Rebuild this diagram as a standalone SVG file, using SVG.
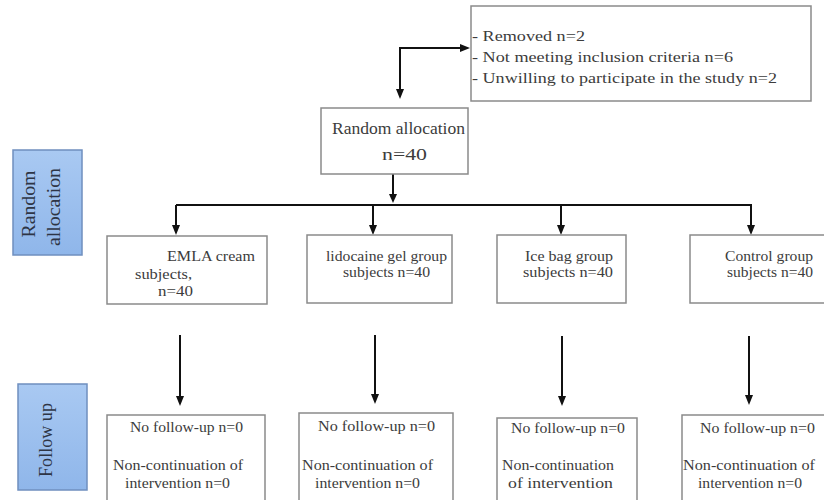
<svg xmlns="http://www.w3.org/2000/svg" width="824" height="500" viewBox="0 0 824 500">
<defs>
<linearGradient id="bg" x1="0" y1="0" x2="0" y2="1">
<stop offset="0" stop-color="#a9c9f2"/>
<stop offset="1" stop-color="#8fb6ea"/>
</linearGradient>
</defs>
<style>
.box{fill:#fff;stroke:#8a8a8a;stroke-width:1.5}
.side{fill:url(#bg);stroke:#6f8fbf;stroke-width:1.5}
.t{font-family:"Liberation Serif","Times New Roman",serif;fill:#3c3c3c;font-size:15px}
.s{font-size:14px}
.big{font-size:16px}
.st{font-family:"Liberation Serif","Times New Roman",serif;fill:#2e3545;font-size:19px}
.c{stroke:#111;stroke-width:2;fill:none}
.h{fill:#111}
</style>
<rect width="824" height="500" fill="#fff"/>

<g id="connectors">
<path class="c" d="M400,47 V90"/>
<path class="h" d="M396,89 L404,89 L400,99 z"/>
<path class="c" d="M401,48 H461"/>
<path class="h" d="M460,44 L470,48 L460,52 z"/>
<path class="c" d="M393,174 V195"/>
<path class="h" d="M389,194 L397,194 L393,203 z"/>
<path class="c" d="M176,205 H752"/>
<path class="c" d="M176,205 V226"/><path class="h" d="M172,225 L180,225 L176,235 z"/>
<path class="c" d="M373,205 V226"/><path class="h" d="M369,225 L377,225 L373,235 z"/>
<path class="c" d="M561,205 V226"/><path class="h" d="M557,225 L565,225 L561,235 z"/>
<path class="c" d="M751,205 V226"/><path class="h" d="M747,225 L755,225 L751,235 z"/>
<path class="c" d="M180,335 V397"/><path class="h" d="M176,396 L184,396 L180,406 z"/>
<path class="c" d="M375,335 V395"/><path class="h" d="M371,394 L379,394 L375,404 z"/>
<path class="c" d="M562,336 V397"/><path class="h" d="M558,396 L566,396 L562,406 z"/>
<path class="c" d="M749,336 V396"/><path class="h" d="M745,395 L753,395 L749,405 z"/>
</g>

<g id="excluded">
<rect class="box" x="471" y="6" width="340" height="95"/>
<text class="t" x="472" y="41" textLength="113" lengthAdjust="spacingAndGlyphs">- Removed n=2</text>
<text class="t" x="472" y="62" textLength="261" lengthAdjust="spacingAndGlyphs">- Not meeting inclusion criteria n=6</text>
<text class="t" x="472" y="83" textLength="305" lengthAdjust="spacingAndGlyphs">- Unwilling to participate in the study n=2</text>
</g>

<g id="random-allocation">
<rect class="box" x="321" y="108" width="147" height="66"/>
<text class="t big" x="332" y="134" textLength="133" lengthAdjust="spacingAndGlyphs">Random allocation</text>
<text class="t big" x="382" y="160" textLength="45" lengthAdjust="spacingAndGlyphs">n=40</text>
</g>

<g id="side-random">
<rect class="side" x="13" y="150" width="69" height="105"/>
<text class="st" transform="translate(35,204) rotate(-90)" text-anchor="middle" textLength="67" lengthAdjust="spacingAndGlyphs">Random</text>
<text class="st" transform="translate(60,207) rotate(-90)" text-anchor="middle" textLength="78" lengthAdjust="spacingAndGlyphs">allocation</text>
</g>

<g id="side-follow">
<rect class="side" x="18" y="384" width="69" height="106"/>
<text class="st" transform="translate(52,440) rotate(-90)" text-anchor="middle" textLength="74" lengthAdjust="spacingAndGlyphs">Follow up</text>
</g>

<g id="emla">
<rect class="box" x="107" y="236" width="160" height="68"/>
<text class="t" x="167" y="261" textLength="88" lengthAdjust="spacingAndGlyphs">EMLA cream</text>
<text class="t" x="135" y="279" textLength="57" lengthAdjust="spacingAndGlyphs">subjects,</text>
<text class="t" x="158" y="296" textLength="35" lengthAdjust="spacingAndGlyphs">n=40</text>
</g>

<g id="lidocaine">
<rect class="box" x="307" y="235" width="145" height="68"/>
<text class="t" x="326" y="261" textLength="121" lengthAdjust="spacingAndGlyphs">lidocaine gel group</text>
<text class="t" x="343" y="277" textLength="87" lengthAdjust="spacingAndGlyphs">subjects n=40</text>
</g>

<g id="icebag">
<rect class="box" x="497" y="235" width="129" height="68"/>
<text class="t" x="525" y="261" textLength="88" lengthAdjust="spacingAndGlyphs">Ice bag group</text>
<text class="t" x="523" y="277" textLength="90" lengthAdjust="spacingAndGlyphs">subjects n=40</text>
</g>

<g id="control">
<rect class="box" x="690" y="235" width="140" height="68"/>
<text class="t" x="725" y="261" textLength="88" lengthAdjust="spacingAndGlyphs">Control group</text>
<text class="t" x="727" y="277" textLength="86" lengthAdjust="spacingAndGlyphs">subjects n=40</text>
</g>

<g id="fu1">
<rect class="box" x="107" y="415" width="158" height="90"/>
<text class="t s" x="130" y="432" textLength="113" lengthAdjust="spacingAndGlyphs">No follow-up n=0</text>
<text class="t s" x="113" y="470" textLength="130" lengthAdjust="spacingAndGlyphs">Non-continuation of</text>
<text class="t s" x="125" y="488" textLength="105" lengthAdjust="spacingAndGlyphs">intervention n=0</text>
</g>

<g id="fu2">
<rect class="box" x="299" y="413" width="154" height="92"/>
<text class="t s" x="318" y="431" textLength="117" lengthAdjust="spacingAndGlyphs">No follow-up n=0</text>
<text class="t s" x="302" y="470" textLength="131" lengthAdjust="spacingAndGlyphs">Non-continuation of</text>
<text class="t s" x="315" y="488" textLength="105" lengthAdjust="spacingAndGlyphs">intervention n=0</text>
</g>

<g id="fu3">
<rect class="box" x="497" y="418" width="140" height="90"/>
<text class="t s" x="511" y="433" textLength="114" lengthAdjust="spacingAndGlyphs">No follow-up n=0</text>
<text class="t s" x="502" y="470" textLength="112" lengthAdjust="spacingAndGlyphs">Non-continuation</text>
<text class="t s" x="508" y="488" textLength="105" lengthAdjust="spacingAndGlyphs">of intervention</text>
</g>

<g id="fu4">
<rect class="box" x="682" y="415" width="150" height="92"/>
<text class="t s" x="700" y="433" textLength="115" lengthAdjust="spacingAndGlyphs">No follow-up n=0</text>
<text class="t s" x="683" y="470" textLength="132" lengthAdjust="spacingAndGlyphs">Non-continuation of</text>
<text class="t s" x="698" y="488" textLength="104" lengthAdjust="spacingAndGlyphs">intervention n=0</text>
</g>
</svg>
